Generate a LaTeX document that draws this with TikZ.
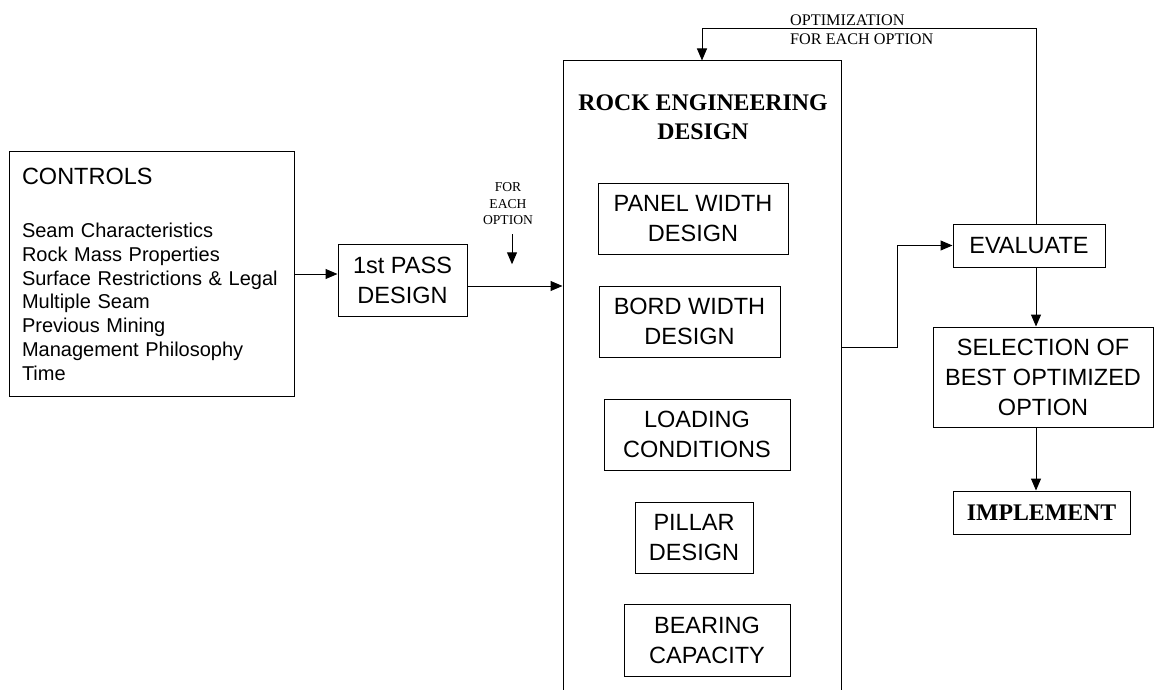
\documentclass[tikz,border=0pt]{standalone}
\usepackage{fontspec}
\setmainfont{Liberation Serif}
\setsansfont{Liberation Sans}
\usepackage{tikz}
\usetikzlibrary{arrows.meta,positioning,calc}
\newcommand{\boxfont}{\sffamily\fontsize{23.5}{30}\selectfont}
\newcommand{\listfont}{\sffamily\fontsize{20}{23.7}\selectfont}
\newcommand{\headfont}{\rmfamily\bfseries\fontsize{23.8}{29}\selectfont}
\newcommand{\notefont}{\rmfamily\fontsize{16.2}{19}\selectfont}
\newcommand{\tinyfont}{\rmfamily\fontsize{13.6}{16.5}\selectfont}
\tikzset{
  ar/.style={-{Triangle[length=12pt,width=10pt]},line width=1pt},
  box/.style={draw,line width=1pt,inner sep=0pt,align=center,font=\boxfont}
}

\begin{document}
\begin{tikzpicture}[x=1pt,y=-1pt]
\useasboundingbox (0,0) rectangle (1154,690);
\clip (0,0) rectangle (1154,690);
% inputs
\node[box,minimum width=285,minimum height=244,align=left,text width=259,font=\listfont] (controls) at (151.5,274)
  {{\boxfont CONTROLS}\\[30pt]Seam Characteristics\\Rock Mass Properties\\Surface Restrictions \& Legal\\Multiple Seam\\Previous Mining\\Management Philosophy\\Time};
\node[box,minimum width=129,minimum height=72] (pass) at (402.5,280) {1st PASS\\DESIGN};
\node[font=\tinyfont,align=center,inner sep=0pt] (foreach) at (508,204) {FOR\\EACH\\OPTION};
% rock engineering design block
\node[draw,line width=1pt,minimum width=278,minimum height=659,inner sep=0pt] (rock) at (702,390.5) {};
\node[font=\headfont,align=center,inner sep=0pt] (rockhead) at (703,117) {ROCK ENGINEERING\\DESIGN};
\node[box,minimum width=190,minimum height=71] (panel) at (693,218.5) {PANEL WIDTH\\DESIGN};
\node[box,minimum width=181,minimum height=71] (bord) at (689.5,321.5) {BORD WIDTH\\DESIGN};
\node[box,minimum width=186,minimum height=71] (loading) at (697,434.5) {LOADING\\CONDITIONS};
\node[box,minimum width=118,minimum height=71] (pillar) at (694,537.5) {PILLAR\\DESIGN};
\node[box,minimum width=166,minimum height=72] (bearing) at (707,640) {BEARING\\CAPACITY};
% outputs
\node[box,minimum width=152,minimum height=43] (evaluate) at (1029,245.5) {EVALUATE};
\node[box,minimum width=220,minimum height=100] (selection) at (1043,377) {SELECTION OF\\BEST OPTIMIZED\\OPTION};
\node[box,minimum width=177,minimum height=43,font=\headfont] (implement) at (1041.5,512.5) {IMPLEMENT};
\node[font=\notefont,align=left,inner sep=0pt,anchor=west] (optim) at (790,30) {OPTIMIZATION\\FOR EACH OPTION};
\coordinate (col) at (1036,0);
\coordinate (top) at (0,29);
\coordinate (bend) at (897,347);
% connectors
\draw[ar] (controls.east) -- (controls.east -| pass.west);
\draw[ar] ([yshift=-6]pass.east) -- ([yshift=-6]pass.east -| rock.west);
\draw[ar] ([shift={(4,9)}]foreach.south) -- ++(0,30);
\draw[ar] (col |- evaluate.north) -- (col |- top) -| (rock.north);
\draw[ar] (bend -| rock.east) -- (bend) |- (evaluate.west);
\draw[ar] (col |- evaluate.south) -- (col |- selection.north);
\draw[ar] (col |- selection.south) -- (col |- implement.north);
\end{tikzpicture}
\end{document}
